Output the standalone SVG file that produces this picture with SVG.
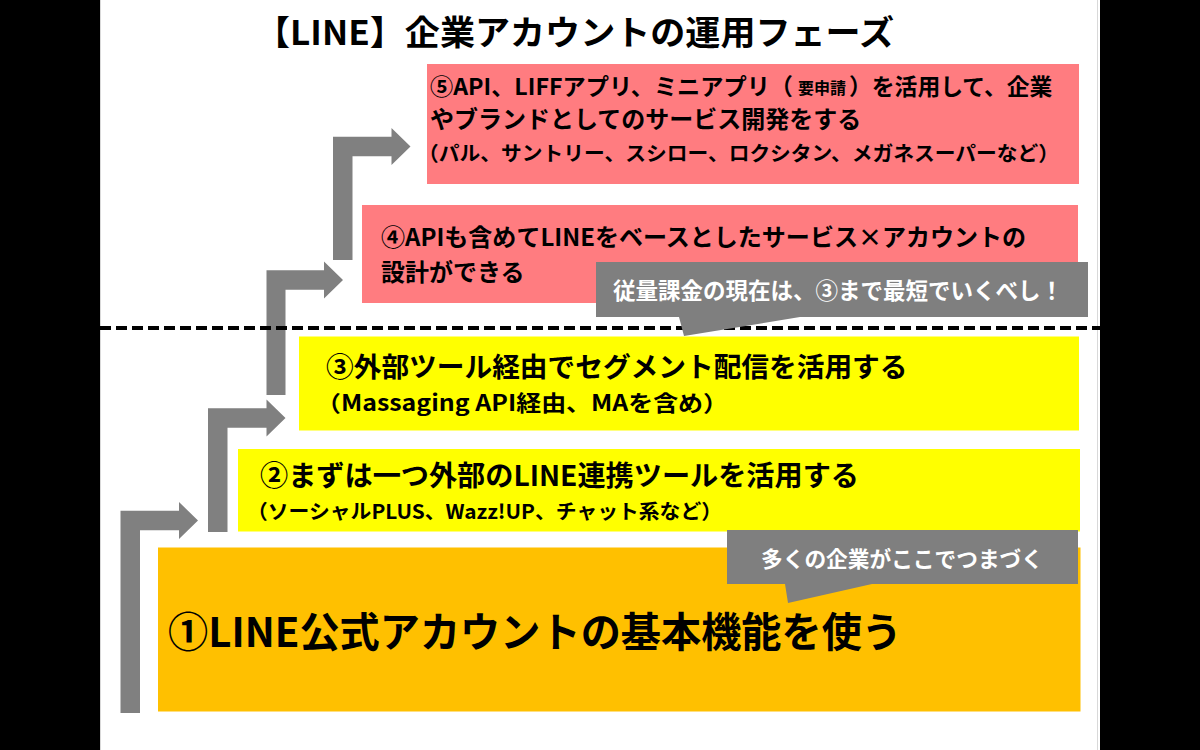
<svg xmlns="http://www.w3.org/2000/svg" width="1200" height="750" viewBox="0 0 1200 750">
<style>
  .t { font-family: "Noto Sans CJK JP", "Noto Sans", sans-serif; font-weight: 700; fill: #000; }
  .w { fill: #ffffff; }
  .arrow { fill: #808080; }
  .callout { fill: #7f7f7f; }
  .pink { fill: #ff7c80; }
  .yellow { fill: #ffff00; }
  .orange { fill: #ffc000; }
</style>
<rect x="0" y="0" width="1200" height="750" fill="#000"/>
<rect x="100" y="0" width="1000" height="750" fill="#fff"/>
<line x1="100.5" y1="0" x2="100.5" y2="750" stroke="#d9d9d9" stroke-width="1"/>
<line x1="1097.5" y1="0" x2="1097.5" y2="750" stroke="#d9d9d9" stroke-width="1"/>

<g id="title">
  <text class="t" x="255" y="45" font-size="34" textLength="639" lengthAdjust="spacingAndGlyphs">【LINE】企業アカウントの運用フェーズ</text>
</g>

<g id="node-5">
  <rect class="pink" x="427" y="64" width="652" height="120"/>
  <text class="t" x="430" y="95" font-size="23.2">⑤API、LIFFアプリ、ミニアプリ（</text>
  <text class="t" x="798" y="94" font-size="16">要申請</text>
  <text class="t" x="849" y="95" font-size="22.8">）を活用して、企業</text>
  <text class="t" x="430" y="128" font-size="24">やブランドとしてのサービス開発をする</text>
  <text class="t" x="418" y="161" font-size="20" textLength="641" lengthAdjust="spacingAndGlyphs">（パル、サントリー、スシロー、ロクシタン、メガネスーパーなど）</text>
</g>

<g id="node-4">
  <rect class="pink" x="362" y="205" width="716" height="98"/>
  <text class="t" x="381" y="246" font-size="24" textLength="645" lengthAdjust="spacingAndGlyphs">④APIも含めてLINEをベースとしたサービス×アカウントの</text>
  <text class="t" x="381" y="281" font-size="24">設計ができる</text>
</g>

<g id="node-3">
  <rect class="yellow" x="299" y="336.5" width="780" height="94"/>
  <text class="t" x="326" y="377" font-size="27.7">③外部ツール経由でセグメント配信を活用する</text>
  <text class="t" x="316" y="411" font-size="22" textLength="412" lengthAdjust="spacingAndGlyphs">（Massaging API経由、MAを含め）</text>
</g>

<g id="node-2">
  <rect class="yellow" x="238" y="449" width="842" height="82.5"/>
  <text class="t" x="260" y="486" font-size="28" textLength="599" lengthAdjust="spacingAndGlyphs">②まずは一つ外部のLINE連携ツールを活用する</text>
  <text class="t" x="247" y="518.5" font-size="20" textLength="475" lengthAdjust="spacingAndGlyphs">（ソーシャルPLUS、Wazz!UP、チャット系など）</text>
</g>

<g id="node-1">
  <rect class="orange" x="158" y="547.5" width="922.5" height="164"/>
  <text class="t" x="168" y="647" font-size="41" textLength="734" lengthAdjust="spacingAndGlyphs">①LINE公式アカウントの基本機能を使う</text>
</g>

<g id="connectors">
  <path class="arrow" d="M120.5,713 V510.75 H179 V502 L198,520.5 L179,539 V530.25 H140 V713 Z"/>
  <path class="arrow" d="M208,532 V408.25 H266.5 V399.5 L285.5,418 L266.5,436.5 V427.75 H227.5 V532 Z"/>
  <path class="arrow" d="M266.5,395 V270.25 H324 V261.5 L343,280 L324,298.5 V289.75 H285.5 V395 Z"/>
  <path class="arrow" d="M333,260 V136.75 H391.5 V128 L410.5,146.5 L391.5,165 V156.25 H352.5 V260 Z"/>
</g>

<g id="divider">
  <line x1="100" y1="328" x2="1100" y2="328" stroke="#000" stroke-width="4" stroke-dasharray="11 5"/>
</g>

<g id="callout-a">
  <path class="callout" d="M596,262 H1088 V317 H800 L684,336 L679,317 H596 Z"/>
  <text class="t w" x="613" y="299" font-size="22.5">従量課金の現在は、③まで最短でいくべし！</text>
</g>

<g id="callout-b">
  <path class="callout" d="M727,530 H1078 V584 H872 L788,603 L785,584 H727 Z"/>
  <text class="t w" x="761" y="567" font-size="21.7">多くの企業がここでつまづく</text>
</g>
</svg>
